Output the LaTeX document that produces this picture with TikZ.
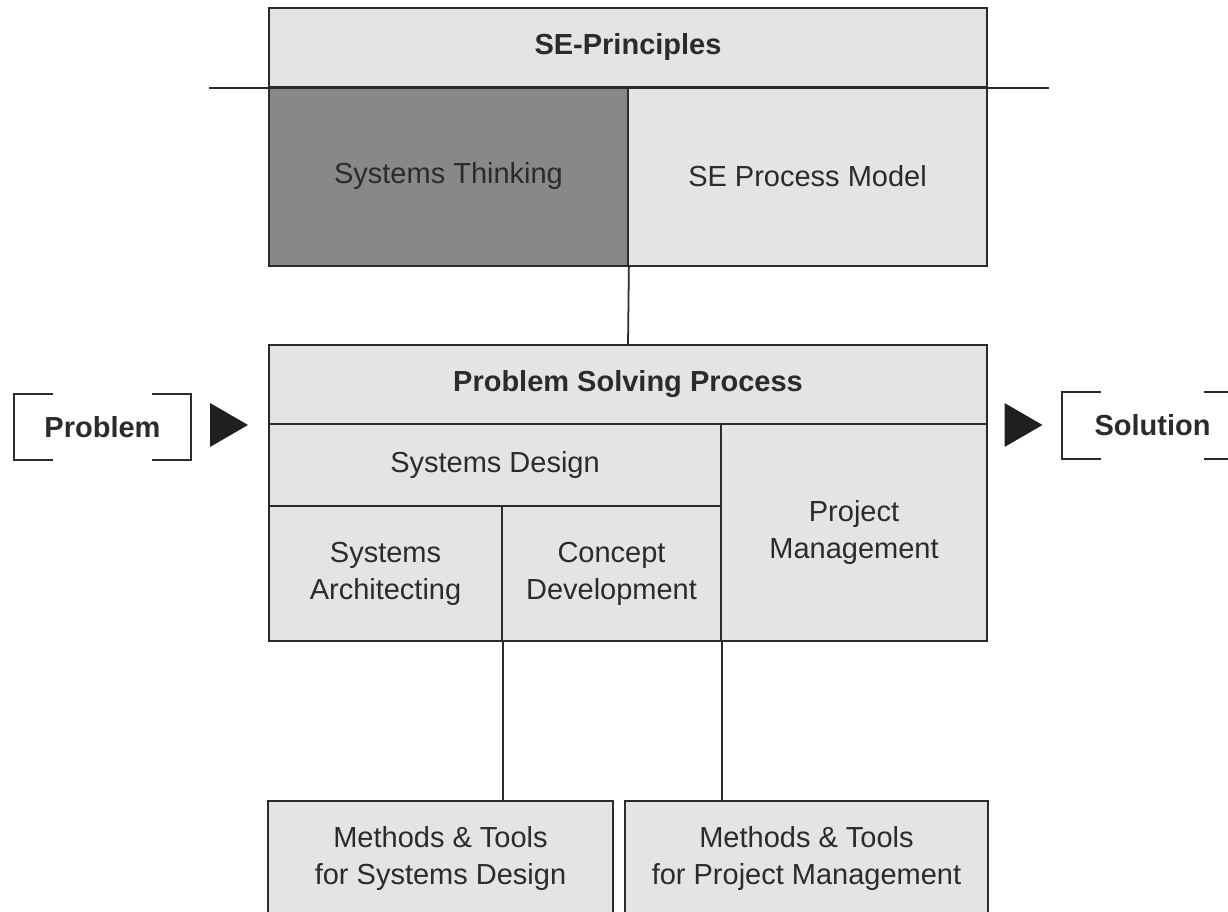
\documentclass[tikz,border=0pt]{standalone}
\usepackage{fontspec}
\setmainfont{Liberation Sans}
\usetikzlibrary{positioning,calc}
\definecolor{panelgray}{HTML}{E4E4E4}
\definecolor{thinkgray}{HTML}{888888}
\definecolor{inkgray}{HTML}{2B2B2B}

\begin{document}
\begin{tikzpicture}[
    blockbox/.style={draw=inkgray, fill=panelgray, line width=1pt,
                     inner sep=2pt, align=center, text=inkgray,
                     font=\fontsize{16.5}{21}\selectfont},
    headbox/.style={blockbox, font=\fontsize{16.5}{21}\selectfont\bfseries},
    thinkbox/.style={blockbox, fill=thinkgray},
    endlabel/.style={inner sep=0pt, minimum width=3.54cm, minimum height=1.32cm,
                     text=inkgray, font=\fontsize{16.5}{21}\selectfont\bfseries},
    bracket/.style={draw=inkgray, line width=1pt},
    link/.style={draw=inkgray, line width=1pt},
    flowtip/.pic={\fill[black!88] (-0.38,0.44) -- (0.38,0) -- (-0.38,-0.44) -- cycle;}
]
\useasboundingbox (0,0) rectangle (24.56,18.24);
\clip (0,0) rectangle (24.56,18.24);

% principles block
\node[headbox,  minimum width=14.36cm, minimum height=1.58cm] (princ)   at (12.56,17.29) {SE-Principles};
\node[thinkbox, minimum width=7.18cm,  minimum height=3.58cm] (think)   at ( 8.97,14.71) {Systems Thinking};
\node[blockbox, minimum width=7.18cm,  minimum height=3.58cm] (model)   at (16.15,14.71) {SE Process Model};

% problem solving block
\node[headbox,  minimum width=14.36cm, minimum height=1.58cm] (psp)     at (12.56,10.55) {Problem Solving Process};
\node[blockbox, minimum width=9.04cm,  minimum height=1.64cm] (design)  at ( 9.90, 8.94) {Systems Design};
\node[blockbox, minimum width=4.66cm,  minimum height=2.70cm] (arch)    at ( 7.71, 6.77) {Systems\\Architecting};
\node[blockbox, minimum width=4.38cm,  minimum height=2.70cm] (concept) at (12.23, 6.77) {Concept\\Development};
\node[blockbox, minimum width=5.32cm,  minimum height=4.34cm] (pm)      at (17.08, 7.59) {Project\\Management};

% methods and tools
\node[blockbox, minimum width=6.90cm,  minimum height=2.30cm] (mtsd)    at ( 8.81, 1.07) {Methods \& Tools\\for Systems Design};
\node[blockbox, minimum width=7.26cm,  minimum height=2.30cm] (mtpm)    at (16.13, 1.07) {Methods \& Tools\\for Project Management};

% divider under the principles header
\draw[link] ([xshift=-1.18cm]princ.south west) -- ([xshift=1.22cm]princ.south east);

\draw[link] (think.south east) -- (psp.north);
\draw[link] (arch.south east) -- (arch.south east |- mtsd.north);
\draw[link] (concept.south east) -- (concept.south east |- mtpm.north);

% input and output
\node[endlabel] (prob) at ( 2.05,9.70) {Problem};
\node[endlabel, minimum width=3.6cm] (sol) at (23.05,9.73) {Solution};

\draw[bracket] ([xshift=0.78cm]prob.north west) -- (prob.north west) -- (prob.south west) -- ([xshift=0.78cm]prob.south west);
\draw[bracket] ([xshift=-0.78cm]prob.north east) -- (prob.north east) -- (prob.south east) -- ([xshift=-0.78cm]prob.south east);
\draw[bracket] ([xshift=0.78cm]sol.north west) -- (sol.north west) -- (sol.south west) -- ([xshift=0.78cm]sol.south west);
\draw[bracket] ([xshift=-0.78cm]sol.north east) -- (sol.north east) -- (sol.south east) -- ([xshift=-0.78cm]sol.south east);

\pic at ( 4.58,9.74) {flowtip};
\pic at (20.47,9.74) {flowtip};

\end{tikzpicture}
\end{document}
